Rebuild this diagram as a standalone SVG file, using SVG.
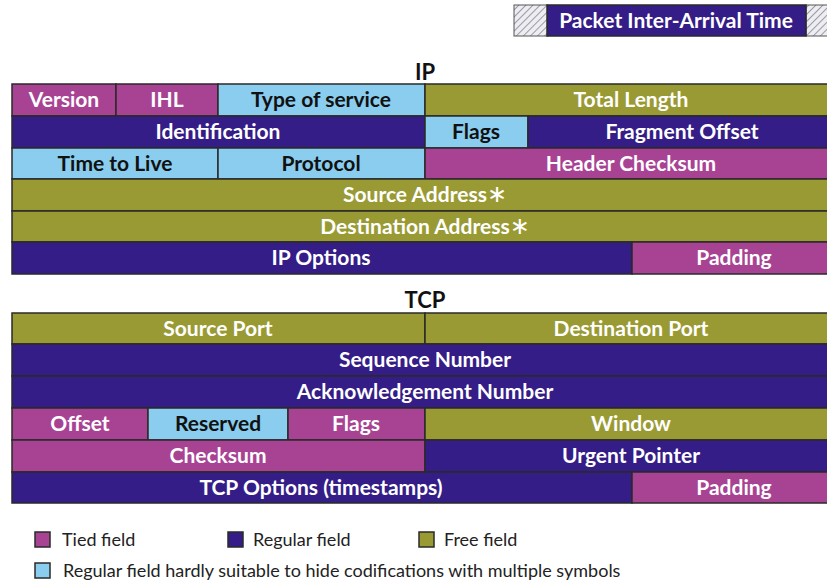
<svg xmlns="http://www.w3.org/2000/svg" width="827" height="581" viewBox="0 0 827 581">
<defs>
<pattern id="hatch" patternUnits="userSpaceOnUse" width="5" height="5" patternTransform="rotate(45)">
<rect width="5" height="5" fill="#eeeef2"/>
<line x1="0" y1="0" x2="0" y2="5" stroke="#9a9aa8" stroke-width="2"/>
</pattern>
<style>
rect.c{stroke:#2a2a2a;stroke-width:1.5}
.t{fill:#a84394}.r{fill:#341d86}.f{fill:#9a9a34}.l{fill:#8acdee}
text{font-family:Lato,"Open Sans","Liberation Sans",sans-serif;font-weight:bold;font-size:21px;text-anchor:middle}
.w{fill:#ffffff}.k{fill:#111111}
.h{fill:#111111;font-size:22px}
.lg{font-weight:normal;font-size:18px;text-anchor:start;fill:#222}
.ast{font-family:"DejaVu Sans",sans-serif;font-weight:normal;font-size:24px}
</style>
</defs>
<g id="pia">
<rect x="514" y="5" width="34" height="31" fill="url(#hatch)" stroke="#555" stroke-width="1"/>
<rect x="806" y="5" width="30" height="31" fill="url(#hatch)" stroke="#555" stroke-width="1"/>
<rect class="c r" x="547" y="5" width="259" height="31"/>
<text class="w" x="676" y="28">Packet Inter-Arrival Time</text>
</g>
<text class="h" x="425" y="80">IP</text>
<g id="ip">
<g id="ip-version"><rect class="c t" x="12" y="84" width="104" height="32"/><text class="w" x="64" y="107">Version</text></g>
<g id="ip-ihl"><rect class="c t" x="116" y="84" width="102" height="32"/><text class="w" x="167" y="107">IHL</text></g>
<g id="ip-tos"><rect class="c l" x="218" y="84" width="207" height="32"/><text class="k" x="321" y="107">Type of service</text></g>
<g id="ip-len"><rect class="c f" x="425" y="84" width="412" height="32"/><text class="w" x="631" y="107">Total Length</text></g>
<g id="ip-id"><rect class="c r" x="12" y="116" width="413" height="32"/><text class="w" x="218" y="139">Identification</text></g>
<g id="ip-flags"><rect class="c l" x="425" y="116" width="103" height="32"/><text class="k" x="476" y="139">Flags</text></g>
<g id="ip-frag"><rect class="c r" x="528" y="116" width="309" height="32"/><text class="w" x="682" y="139">Fragment Offset</text></g>
<g id="ip-ttl"><rect class="c l" x="12" y="148" width="206" height="31"/><text class="k" x="115" y="171">Time to Live</text></g>
<g id="ip-proto"><rect class="c l" x="218" y="148" width="207" height="31"/><text class="k" x="321" y="171">Protocol</text></g>
<g id="ip-chk"><rect class="c t" x="425" y="148" width="412" height="31"/><text class="w" x="631" y="171">Header Checksum</text></g>
<g id="ip-src"><rect class="c f" x="12" y="179" width="825" height="32"/><text class="w" x="425" y="202">Source Address<tspan class="ast">∗</tspan></text></g>
<g id="ip-dst"><rect class="c f" x="12" y="211" width="825" height="31"/><text class="w" x="425" y="234">Destination Address<tspan class="ast">∗</tspan></text></g>
<g id="ip-opt"><rect class="c r" x="12" y="242" width="620" height="32"/><text class="w" x="321" y="265">IP Options</text></g>
<g id="ip-pad"><rect class="c t" x="632" y="242" width="205" height="32"/><text class="w" x="734" y="265">Padding</text></g>
</g>
<text class="h" x="425" y="308">TCP</text>
<g id="tcp">
<g id="tcp-sport"><rect class="c f" x="12" y="313" width="413" height="31"/><text class="w" x="218" y="336">Source Port</text></g>
<g id="tcp-dport"><rect class="c f" x="425" y="313" width="412" height="31"/><text class="w" x="631" y="336">Destination Port</text></g>
<g id="tcp-seq"><rect class="c r" x="12" y="344" width="825" height="32"/><text class="w" x="425" y="367">Sequence Number</text></g>
<g id="tcp-ack"><rect class="c r" x="12" y="376" width="825" height="32"/><text class="w" x="425" y="399">Acknowledgement Number</text></g>
<g id="tcp-off"><rect class="c t" x="12" y="408" width="136" height="32"/><text class="w" x="80" y="431">Offset</text></g>
<g id="tcp-res"><rect class="c l" x="148" y="408" width="140" height="32"/><text class="k" x="218" y="431">Reserved</text></g>
<g id="tcp-flags"><rect class="c t" x="288" y="408" width="137" height="32"/><text class="w" x="356" y="431">Flags</text></g>
<g id="tcp-win"><rect class="c f" x="425" y="408" width="412" height="32"/><text class="w" x="631" y="431">Window</text></g>
<g id="tcp-chk"><rect class="c t" x="12" y="440" width="413" height="32"/><text class="w" x="218" y="463">Checksum</text></g>
<g id="tcp-urg"><rect class="c r" x="425" y="440" width="412" height="32"/><text class="w" x="631" y="463">Urgent Pointer</text></g>
<g id="tcp-opt"><rect class="c r" x="12" y="472" width="620" height="31"/><text class="w" x="321" y="495">TCP Options (timestamps)</text></g>
<g id="tcp-pad"><rect class="c t" x="632" y="472" width="205" height="31"/><text class="w" x="734" y="495">Padding</text></g>
</g>
<g id="legend">
<rect class="c t" x="35" y="532" width="15" height="15" stroke-width="1.2"/><text class="lg" x="62" y="546">Tied field</text>
<rect class="c r" x="228" y="532" width="15" height="15"/><text class="lg" x="253" y="546">Regular field</text>
<rect class="c f" x="419" y="532" width="15" height="15"/><text class="lg" x="444" y="546">Free field</text>
<rect class="c l" x="35" y="563" width="15" height="15"/><text class="lg" x="63" y="577">Regular field hardly suitable to hide codifications with multiple symbols</text>
</g>
</svg>
